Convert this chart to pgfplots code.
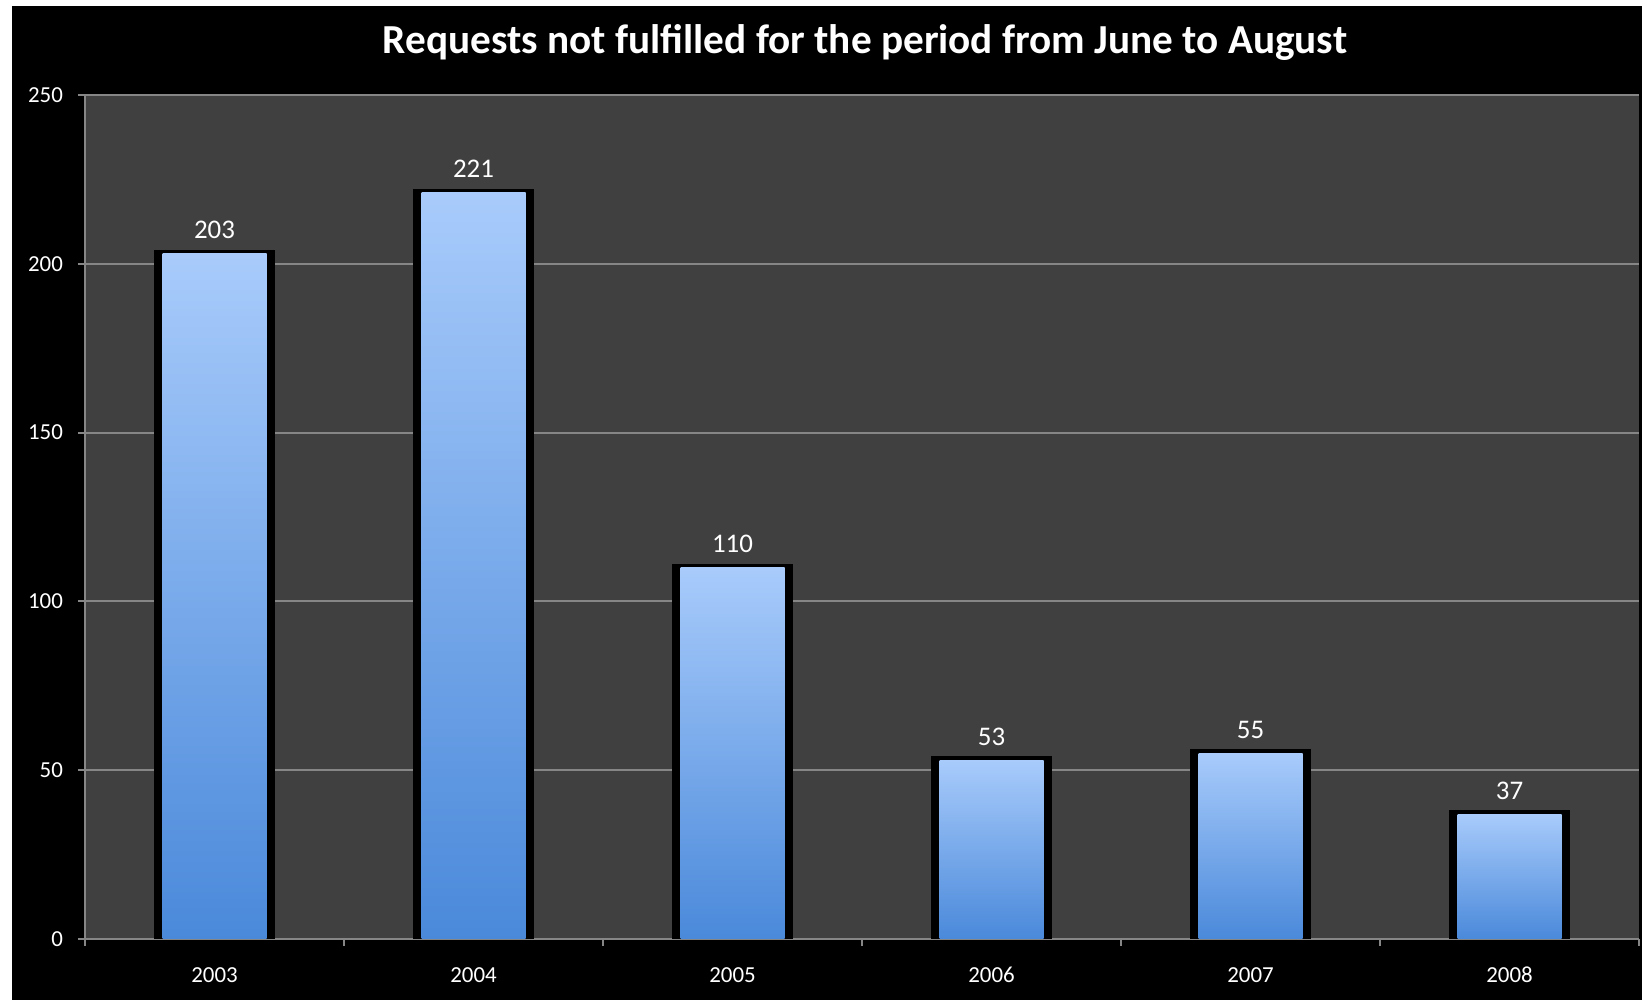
\documentclass[border=0pt]{standalone}
\usepackage{pgfplots}
\pgfplotsset{compat=1.18}
\usepackage{fontspec}
\setmainfont{Carlito}
\definecolor{plotbg}{HTML}{404040}
\definecolor{gridgray}{HTML}{868686}
\definecolor{bartop}{HTML}{A8CBFB}
\definecolor{barbot}{HTML}{4A89DA}
\pgfplotsset{bluebar/.style={ybar, bar width=52bp, draw=none, bar shift=0pt, shade, top color=bartop, bottom color=barbot,
  nodes near coords,
  every node near coord/.append style={anchor=base, yshift=7.5bp, text=white, font=\fontsize{13.5}{16}\selectfont},
  /pgf/number format/assume math mode=true}}
\begin{document}
\begin{tikzpicture}
\useasboundingbox (-42.5bp,-30.5bp) rectangle (778.5bp,469.5bp);
\fill[white] (-42.5bp,-30.5bp) rectangle (778.5bp,469.5bp);
\fill[black] (-36.5bp,-30.5bp) rectangle (778.5bp,466.5bp);
\node[anchor=base, text=white, font=\fontsize{20.7}{24}\selectfont\bfseries] at (390bp,442.5bp) {Requests not fulfilled for the period from June to August};
\begin{axis}[
  at={(0,0)}, anchor=south west,
  scale only axis, width=777bp, height=422bp,
  xmin=-0.5, xmax=5.5, ymin=0, ymax=250,
  axis background/.style={fill=plotbg},
  axis x line*=bottom, axis y line*=left,
  axis line style={gridgray, line width=1bp, -},
  ytick={0,50,...,250},
  ymajorgrids, grid style={gridgray, line width=1bp},
  tick align=outside, major tick length=3.5bp,
  every tick/.style={gridgray, line width=1bp},
  xtick={0,...,5},
  xticklabels={2003,2004,2005,2006,2007,2008},
  xtick style={draw=none},
  extra x ticks={-0.5,0.5,...,5.5},
  extra x tick labels={},
  extra x tick style={grid=none, xtick style={draw=gridgray, line width=1bp}, major tick length=3.5bp},
  /pgf/number format/assume math mode=true,
  ticklabel style={text=white, font=\fontsize{11.5}{13}\selectfont},
  yticklabel style={anchor=east, xshift=-4bp},
  xticklabel style={anchor=base, yshift=-18bp},
  ybar=0pt,
]
\addplot[ybar, bar width=56.5bp, fill=black, draw=black, line width=4bp, bar shift=0pt]
  coordinates {(0,203) (1,221) (2,110) (3,53) (4,55) (5,37)};
\addplot[bluebar] coordinates {(0,203)};
\addplot[bluebar] coordinates {(1,221)};
\addplot[bluebar] coordinates {(2,110)};
\addplot[bluebar] coordinates {(3,53)};
\addplot[bluebar] coordinates {(4,55)};
\addplot[bluebar] coordinates {(5,37)};
\end{axis}
\end{tikzpicture}
\end{document}
